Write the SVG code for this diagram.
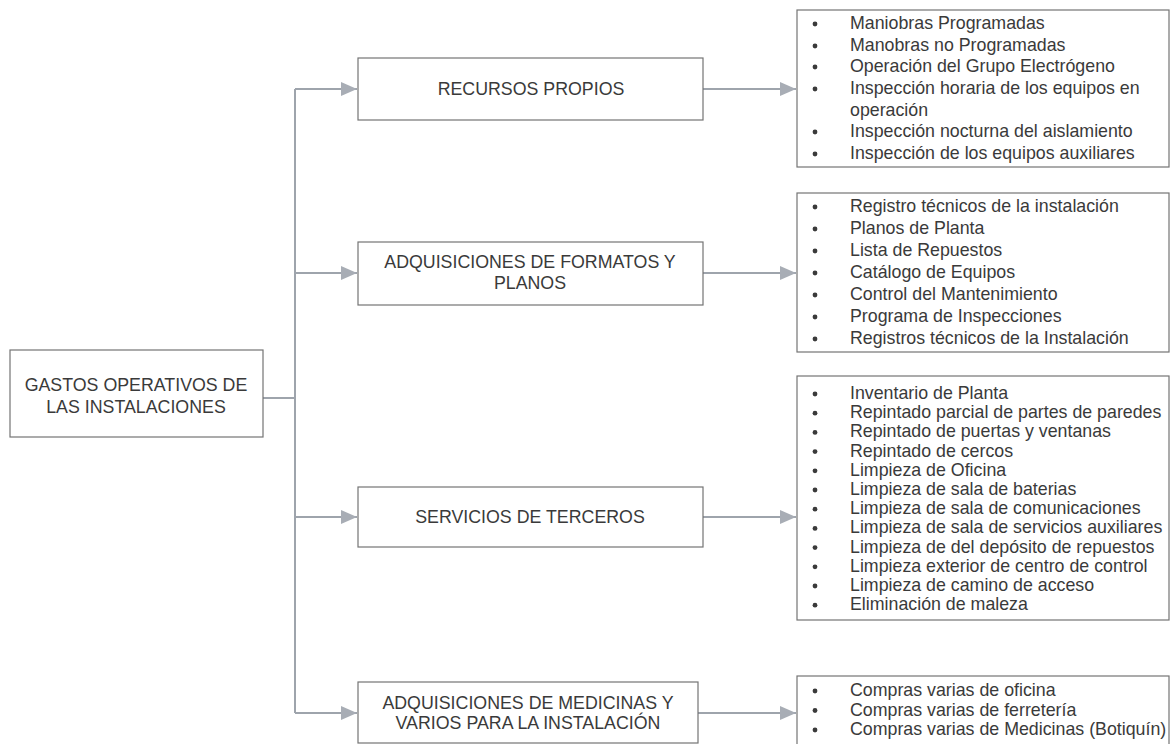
<svg xmlns="http://www.w3.org/2000/svg" width="1172" height="744" viewBox="0 0 1172 744">
<style>
.box{fill:#ffffff;stroke:#747474;stroke-width:1.2}
.t{font-family:"Liberation Sans",Arial,sans-serif;font-size:17.8px;fill:#3a3a3a}
.c{text-anchor:middle}
.con{fill:none;stroke:#9ea4ac;stroke-width:2}
.b{fill:#3a3a3a}
</style>
<defs>
<marker id="ah" markerUnits="userSpaceOnUse" markerWidth="18" markerHeight="14" refX="16" refY="7" orient="auto">
<path d="M0,0 L16,7 L0,14 z" fill="#a8adb5"/>
</marker>
</defs>
<rect width="1172" height="744" fill="#ffffff"/>
<g id="connectors">
<path class="con" d="M263 398 H295"/>
<path class="con" d="M295 89 V713"/>
<path class="con" d="M295 89 H357" marker-end="url(#ah)"/>
<path class="con" d="M295 273 H357" marker-end="url(#ah)"/>
<path class="con" d="M295 517 H357" marker-end="url(#ah)"/>
<path class="con" d="M295 713 H357" marker-end="url(#ah)"/>
<path class="con" d="M703 89 H796" marker-end="url(#ah)"/>
<path class="con" d="M703 273 H796" marker-end="url(#ah)"/>
<path class="con" d="M703 517 H796" marker-end="url(#ah)"/>
<path class="con" d="M698 713 H796" marker-end="url(#ah)"/>
</g>
<g id="gastos">
<rect class="box" x="10" y="350" width="253" height="87"/>
<text class="t c" x="136" y="391">GASTOS OPERATIVOS DE</text>
<text class="t c" x="136" y="413">LAS INSTALACIONES</text>
</g>
<g id="recursos">
<rect class="box" x="358" y="58" width="345" height="62"/>
<text class="t c" x="531" y="95">RECURSOS PROPIOS</text>
</g>
<g id="formatos">
<rect class="box" x="358" y="242" width="345" height="63"/>
<text class="t c" x="530" y="268">ADQUISICIONES DE FORMATOS Y</text>
<text class="t c" x="530" y="289">PLANOS</text>
</g>
<g id="servicios">
<rect class="box" x="358" y="487" width="345" height="60"/>
<text class="t c" x="530" y="523">SERVICIOS DE TERCEROS</text>
</g>
<g id="medicinas">
<rect class="box" x="358" y="682" width="340" height="61"/>
<text class="t c" x="528" y="709">ADQUISICIONES DE MEDICINAS Y</text>
<text class="t c" x="528" y="729">VARIOS PARA LA INSTALACIÓN</text>
</g>
<g id="lista-recursos">
<rect class="box" x="797" y="10" width="372" height="157"/>
<circle class="b" cx="815" cy="24" r="2.4"/>
<circle class="b" cx="815" cy="46" r="2.4"/>
<circle class="b" cx="815" cy="67" r="2.4"/>
<circle class="b" cx="815" cy="89" r="2.4"/>
<circle class="b" cx="815" cy="132" r="2.4"/>
<circle class="b" cx="815" cy="154" r="2.4"/>
<text class="t" x="850" y="29">Maniobras Programadas</text>
<text class="t" x="850" y="51">Manobras no Programadas</text>
<text class="t" x="850" y="72">Operación del Grupo Electrógeno</text>
<text class="t" x="850" y="94">Inspección horaria de los equipos en</text>
<text class="t" x="850" y="116">operación</text>
<text class="t" x="850" y="137">Inspección nocturna del aislamiento</text>
<text class="t" x="850" y="159">Inspección de los equipos auxiliares</text>
</g>
<g id="lista-formatos">
<rect class="box" x="797" y="193" width="372" height="159"/>
<circle class="b" cx="815" cy="207" r="2.4"/>
<circle class="b" cx="815" cy="229" r="2.4"/>
<circle class="b" cx="815" cy="251" r="2.4"/>
<circle class="b" cx="815" cy="273" r="2.4"/>
<circle class="b" cx="815" cy="295" r="2.4"/>
<circle class="b" cx="815" cy="317" r="2.4"/>
<circle class="b" cx="815" cy="339" r="2.4"/>
<text class="t" x="850" y="212">Registro técnicos de la instalación</text>
<text class="t" x="850" y="234">Planos de Planta</text>
<text class="t" x="850" y="256">Lista de Repuestos</text>
<text class="t" x="850" y="278">Catálogo de Equipos</text>
<text class="t" x="850" y="300">Control del Mantenimiento</text>
<text class="t" x="850" y="322">Programa de Inspecciones</text>
<text class="t" x="850" y="344">Registros técnicos de la Instalación</text>
</g>
<g id="lista-servicios">
<rect class="box" x="797" y="376" width="372" height="244"/>
<circle class="b" cx="815" cy="394" r="2.4"/>
<circle class="b" cx="815" cy="413.2" r="2.4"/>
<circle class="b" cx="815" cy="432.4" r="2.4"/>
<circle class="b" cx="815" cy="451.6" r="2.4"/>
<circle class="b" cx="815" cy="470.8" r="2.4"/>
<circle class="b" cx="815" cy="490" r="2.4"/>
<circle class="b" cx="815" cy="509.2" r="2.4"/>
<circle class="b" cx="815" cy="528.4" r="2.4"/>
<circle class="b" cx="815" cy="547.6" r="2.4"/>
<circle class="b" cx="815" cy="566.8" r="2.4"/>
<circle class="b" cx="815" cy="586" r="2.4"/>
<circle class="b" cx="815" cy="605.2" r="2.4"/>
<text class="t" x="850" y="399">Inventario de Planta</text>
<text class="t" x="850" y="418.2">Repintado parcial de partes de paredes</text>
<text class="t" x="850" y="437.4">Repintado de puertas y ventanas</text>
<text class="t" x="850" y="456.6">Repintado de cercos</text>
<text class="t" x="850" y="475.8">Limpieza de Oficina</text>
<text class="t" x="850" y="495">Limpieza de sala de baterias</text>
<text class="t" x="850" y="514.2">Limpieza de sala de comunicaciones</text>
<text class="t" x="850" y="533.4">Limpieza de sala de servicios auxiliares</text>
<text class="t" x="850" y="552.6">Limpieza de del depósito de repuestos</text>
<text class="t" x="850" y="571.8">Limpieza exterior de centro de control</text>
<text class="t" x="850" y="591">Limpieza de camino de acceso</text>
<text class="t" x="850" y="610.2">Eliminación de maleza</text>
</g>
<g id="lista-medicinas">
<rect class="box" x="797" y="676" width="372" height="80"/>
<circle class="b" cx="815" cy="691" r="2.4"/>
<circle class="b" cx="815" cy="710.5" r="2.4"/>
<circle class="b" cx="815" cy="730" r="2.4"/>
<text class="t" x="850" y="696">Compras varias de oficina</text>
<text class="t" x="850" y="715.5">Compras varias de ferretería</text>
<text class="t" x="850" y="735">Compras varias de Medicinas (Botiquín)</text>
</g>
</svg>
